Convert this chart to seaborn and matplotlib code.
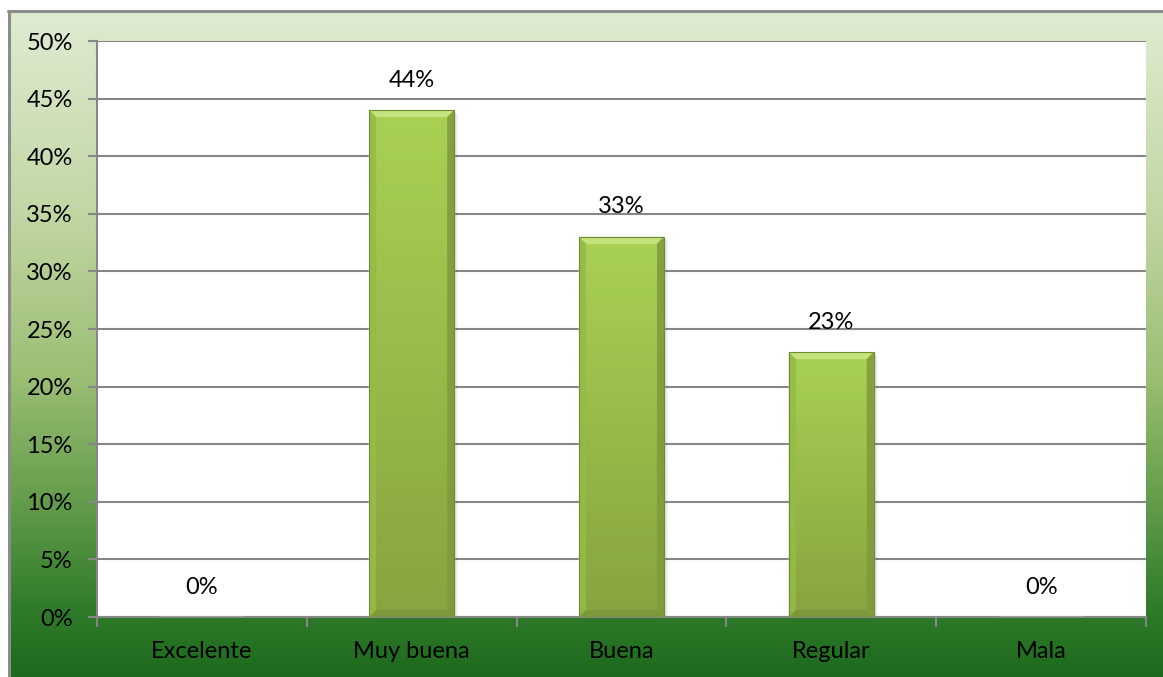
import numpy as np
import pandas as pd
import matplotlib
matplotlib.use("Agg")
import matplotlib.pyplot as plt
from matplotlib.colors import LinearSegmentedColormap
from matplotlib.patches import Polygon, Rectangle
from matplotlib.ticker import FixedLocator, PercentFormatter
import seaborn as sns

# Survey results
categories = ["Excelente", "Muy buena", "Buena", "Regular", "Mala"]
percentages = [0, 44, 33, 23, 0]
y_ticks = list(range(0, 51, 5))

df = pd.DataFrame({"categoria": categories, "porcentaje": percentages})

sns.set_theme(style="white")
plt.rcParams["font.family"] = ["Lato", "DejaVu Sans"]
FS = 17

W, H = 1163, 677
fig = plt.figure(figsize=(W / 100, H / 100), dpi=100)
fig.patch.set_facecolor("white")

# Green gradient backdrop with a thin grey frame on top/left
bg = fig.add_axes([8 / W, 0, 1 - 8 / W, 1 - 11 / H], zorder=0)
bg_cmap = LinearSegmentedColormap.from_list(
    "bg",
    [(0.0, "#e0ebd2"), (0.30, "#c1d7a4"), (0.55, "#9cbe74"),
     (0.75, "#5f9a49"), (0.90, "#2f7b29"), (1.0, "#1e6a1e")],
)
grad = np.linspace(0, 1, 256).reshape(-1, 1)
bg.imshow(grad, aspect="auto", cmap=bg_cmap, extent=[0, 1, 0, 1], origin="upper")
bg.set_axis_off()
fig.add_artist(plt.Line2D([8 / W, 1], [1 - 10.5 / H] * 2, color="#8c8c8c", lw=2.2))
fig.add_artist(plt.Line2D([8.5 / W] * 2, [0, 1 - 10.5 / H], color="#8c8c8c", lw=2.2))

left, right, top, bottom = 97 / W, 1146 / W, 1 - 41 / H, 1 - 617 / H
ax = fig.add_axes([left, bottom, right - left, top - bottom], zorder=1)
ax.set_facecolor("white")

sns.barplot(data=df, x="categoria", y="porcentaje", color="#9dc64c",
            width=0.405, ax=ax, zorder=3, saturation=1)

ax.set_ylim(0, 50)
ax.set_xlim(-0.5, len(categories) - 0.5)
ax.set_xlabel("")
ax.set_ylabel("")
ax.yaxis.set_major_locator(FixedLocator(y_ticks))
ax.yaxis.set_major_formatter(PercentFormatter(decimals=0))
ax.grid(axis="y", color="#878787", lw=1.5, zorder=1)
ax.set_axisbelow(True)

for side in ["top", "right"]:
    ax.spines[side].set_visible(False)
for side in ["left", "bottom"]:
    ax.spines[side].set_color("#878787")
    ax.spines[side].set_linewidth(1.5)

ax.tick_params(axis="y", which="major", length=6.5, width=1.5, color="#878787",
               pad=11, labelsize=FS, labelcolor="black", left=True)
ax.set_xticks(np.arange(-0.5, len(categories)), minor=True)
ax.tick_params(axis="x", which="minor", length=7, width=1.5, color="#878787",
               bottom=True)
ax.tick_params(axis="x", which="major", length=0, pad=17, labelsize=FS,
               labelcolor="black")

# Bevelled gradient fill for each bar
fig.canvas.draw()
inv = ax.transData.inverted()
x0d, y0d = inv.transform((0, 0))
x1d, y1d = inv.transform((1, 1))
px_x, px_y = x1d - x0d, y1d - y0d
bar_cmap = LinearSegmentedColormap.from_list("bar", ["#86a440", "#a9d153"])
bevel = 7
for patch in ax.patches:
    x, y = patch.get_x(), patch.get_y()
    w, h = patch.get_width(), patch.get_height()
    if h <= 0:
        continue
    # soft shadow to the right and below
    for k, a in zip(range(1, 5), [0.10, 0.07, 0.05, 0.03]):
        ax.add_patch(Rectangle((x + k * px_x, y), w, h - k * px_y,
                               color="black", alpha=a, lw=0, zorder=2))
    img = ax.imshow(np.linspace(0, 1, 128).reshape(-1, 1), cmap=bar_cmap,
                    origin="lower", extent=[x, x + w, y, y + h],
                    aspect="auto", zorder=4)
    img.set_clip_path(patch)
    bx, by = bevel * px_x, bevel * px_y
    by = min(by, h / 2)
    ax.add_patch(Polygon([(x, y + h), (x + w, y + h), (x + w - bx, y + h - by),
                          (x + bx, y + h - by)], color="#c2e37e", lw=0, zorder=5))
    ax.add_patch(Polygon([(x, y), (x, y + h), (x + bx, y + h - by), (x + bx, y + by)],
                         color="#96bb47", lw=0, zorder=5, alpha=0.9))
    ax.add_patch(Polygon([(x + w, y), (x + w, y + h), (x + w - bx, y + h - by),
                          (x + w - bx, y + by)], color="#7f9c3a", lw=0, zorder=5,
                         alpha=0.9))
    ax.add_patch(Polygon([(x, y), (x + w, y), (x + w - bx, y + by), (x + bx, y + by)],
                         color="#7c9838", lw=0, zorder=5))
    ax.add_patch(Rectangle((x, y), w, h, fill=False, ec="#6f8a30", lw=0.8, zorder=6))

ax.set_ylim(0, 50)
ax.set_xlim(-0.5, len(categories) - 0.5)

# Value labels above each bar
for i, v in enumerate(percentages):
    ax.annotate(f"{v}%", (i, v), xytext=(0, 14), textcoords="offset points",
                ha="center", va="bottom", fontsize=FS, color="black", zorder=7)

fig.savefig("out.png", dpi=100)
